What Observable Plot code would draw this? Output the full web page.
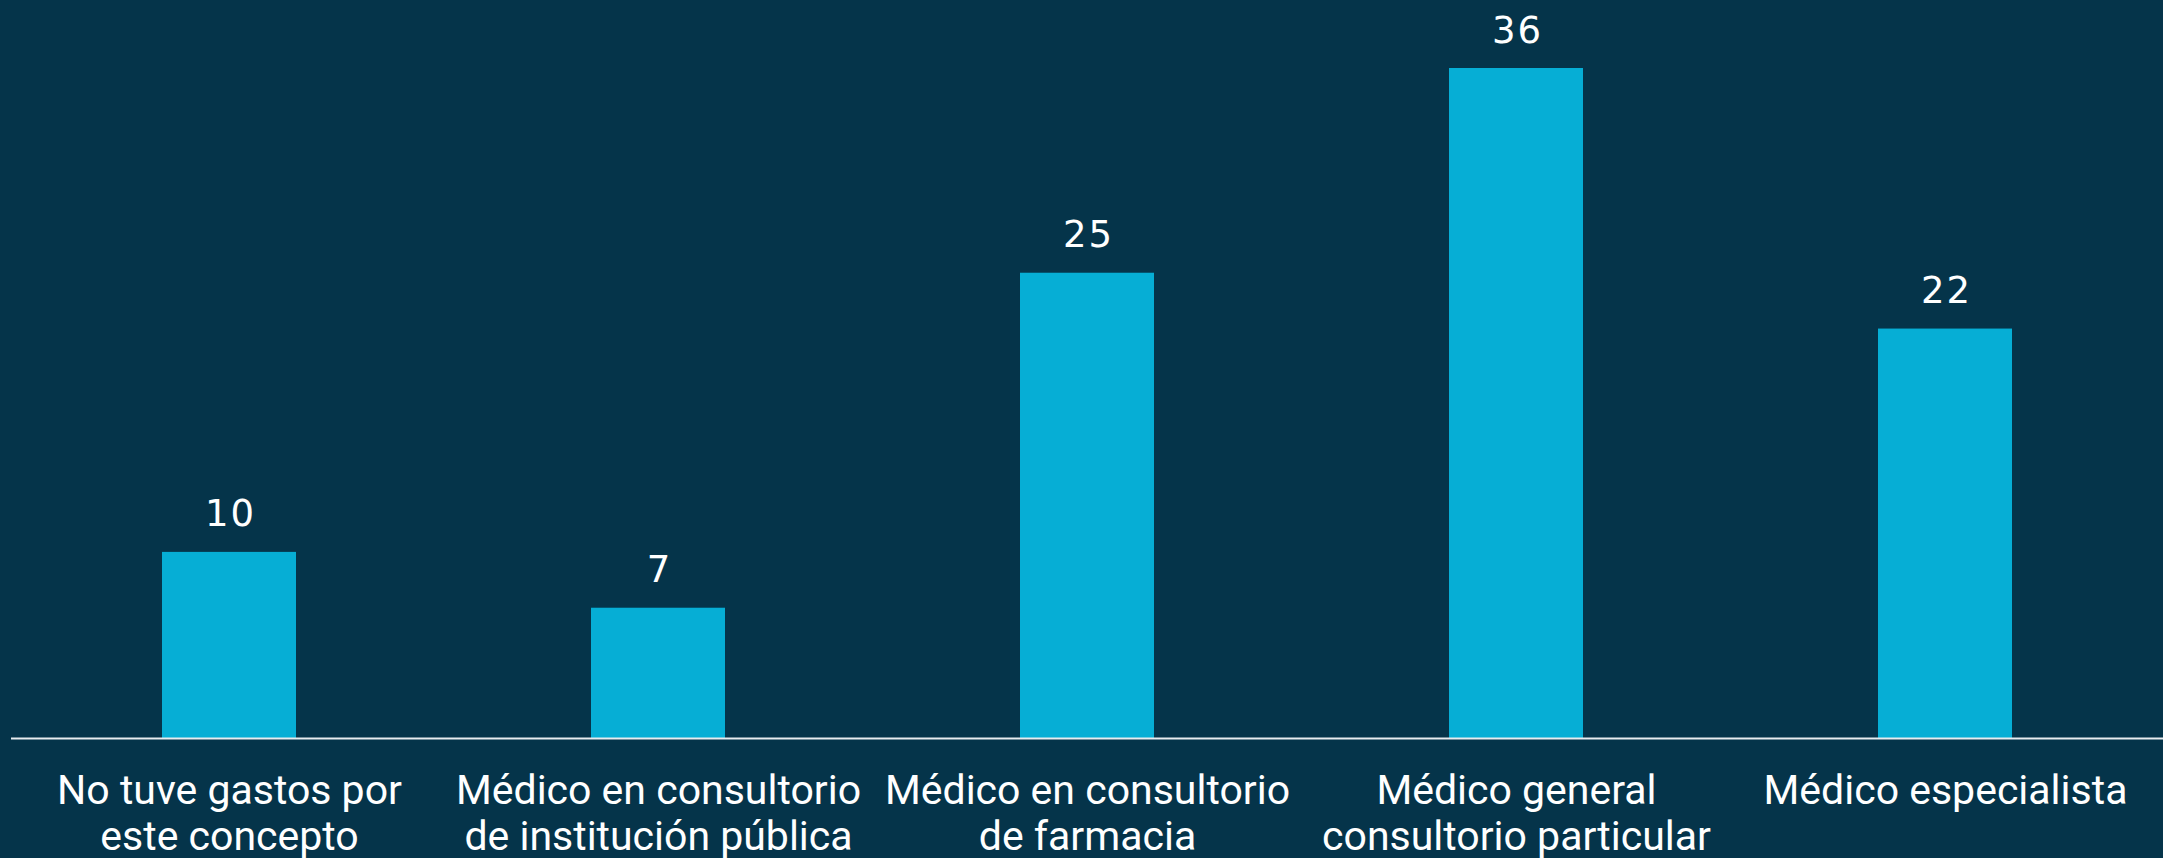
<!DOCTYPE html>
<html>
<head>
<meta charset="utf-8">
<script src="https://cdn.jsdelivr.net/npm/d3@7"></script>
<script src="https://cdn.jsdelivr.net/npm/@observablehq/plot@0.6"></script>
<style>
  html, body { margin: 0; padding: 0; background: #05344A; }
  #chart { width: 2163px; height: 858px; overflow: hidden; }
  .vals text { letter-spacing: 2px; }
</style>
</head>
<body>
<div id="chart"></div>
<script>
const categories = [
  "No tuve gastos por\neste concepto",
  "Médico en consultorio\nde institución pública",
  "Médico en consultorio\nde farmacia",
  "Médico general\nconsultorio particular",
  "Médico especialista"
];
const values = [10, 7, 25, 36, 22];

const data = categories.map((c, i) => ({ category: c, value: values[i] }));

const bg = "#05344A";
const barColor = "#06AED5";
const labelFont = "Roboto, 'DejaVu Sans Condensed', sans-serif";
const numberFont = "'DejaVu Sans', sans-serif";

const chart = Plot.plot({
  width: 2163,
  height: 858,
  marginLeft: 11,
  marginRight: 0,
  marginTop: 68,
  marginBottom: 120,
  style: { background: bg, color: "#ffffff", fontFamily: labelFont, fontSize: "41px", overflow: "visible" },
  x: { domain: categories, paddingInner: 0.688, paddingOuter: 0.3465, axis: null },
  y: { domain: [0, 36], axis: null },
  marks: [
    Plot.barY(data, { x: "category", y: "value", fill: barColor }),
    Plot.ruleY([0], { stroke: "#e8ecef", strokeWidth: 2 }),
    Plot.text(data, {
      x: "category", y: "value", text: d => String(d.value),
      lineAnchor: "bottom", dy: -26, dx: 1, fill: "#ffffff",
      fontSize: 37, fontFamily: numberFont, className: "vals"
    }),
    Plot.axisX({
      tickSize: 0, tickPadding: 32, fontSize: 41, lineHeight: 1.14,
      fill: "#ffffff", fontFamily: labelFont, label: null
    })
  ]
});
document.getElementById("chart").appendChild(chart);
</script>
</body>
</html>
